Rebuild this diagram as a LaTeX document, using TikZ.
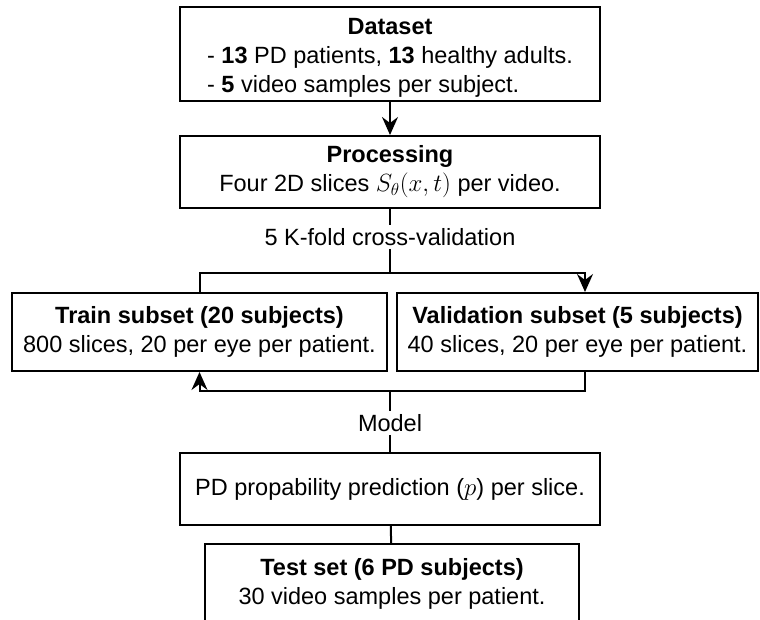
\documentclass[tikz,border=0pt]{standalone}
\usepackage{fontspec}
\setmainfont{Liberation Sans}
\usetikzlibrary{arrows.meta}

\begin{document}
\begin{tikzpicture}[x=1pt, y=-1pt, line join=miter]

\tikzset{
  stage/.style={draw=black, fill=white, line width=2pt, inner sep=0pt, align=center, font=\fontsize{23.5}{29}\selectfont},
  tag/.style={fill=white, inner sep=3pt, font=\fontsize{23.5}{26}\selectfont},
  wire/.style={line width=2pt},
  arrow/.style={wire, -{Stealth[length=18pt, width=16pt, inset=6pt]}}
}

\useasboundingbox (0,0) rectangle (760,620);

% boxes
\node[stage, minimum width=420, minimum height=90] (data) at (390,54)
  {\rule{0pt}{27pt}\textbf{Dataset}\\
   \begin{tabular}[t]{@{}l@{}}
   - \textbf{13} PD patients, \textbf{13} healthy adults.\\
   - \textbf{5} video samples per subject.
   \end{tabular}};
\node[stage, minimum width=420, minimum height=72] (proc) at (390,172)
  {\textbf{Processing}\\Four 2D slices $S_\theta(x,t)$ per video.};
\node[stage, minimum width=375, minimum height=78] (train) at (199.5,332)
  {\textbf{Train subset (20 subjects)}\\800 slices, 20 per eye per patient.};
\node[stage, minimum width=361, minimum height=78] (val) at (577.5,332)
  {\textbf{Validation subset (5 subjects)}\\40 slices, 20 per eye per patient.};
\node[stage, minimum width=420, minimum height=72] (pred) at (390,489)
  {PD propability prediction ($p$) per slice.};
\node[stage, minimum width=374, minimum height=80] (test) at (392,584)
  {\textbf{Test set (6 PD subjects)}\\30 video samples per patient.};

% labels on the trunk
\node[tag] (kfold) at (390,237) {5 K-fold cross-validation};
\node[tag] (model) at (390,423) {Model};

\coordinate (split) at (390,273);
\coordinate (join) at (390,391);

% connectors
\draw[arrow] (data) -- (proc);
\draw[wire] (proc) -- (kfold) -- (split);
\draw[arrow] (train.north) |- (split) -| ([xshift=7.5pt]val.north);
\draw[arrow] ([xshift=7.5pt]val.south) |- (join) -| (train.south);
\draw[wire] (join) -- (model) -- (pred);
\draw[wire] (pred) -- (test);

\end{tikzpicture}
\end{document}
